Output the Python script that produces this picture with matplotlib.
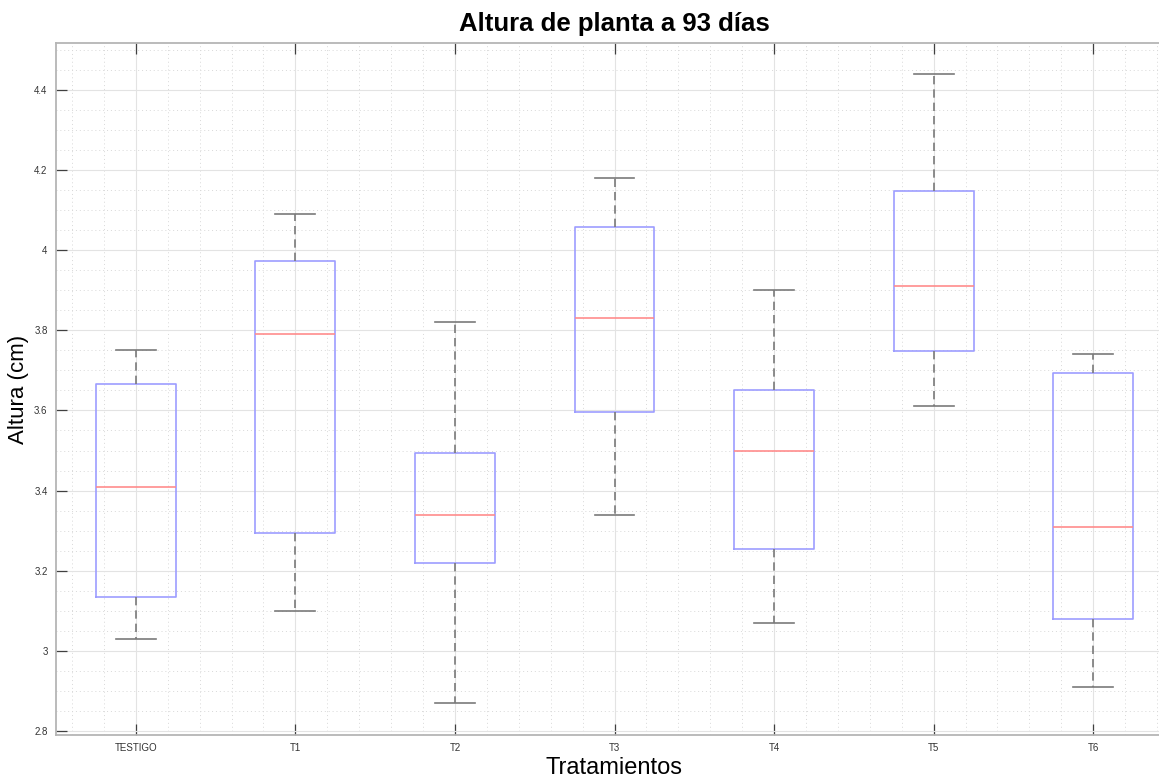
import numpy as np
import matplotlib.pyplot as plt
from matplotlib.ticker import MultipleLocator

plt.rcParams['font.family'] = ['Liberation Sans', 'DejaVu Sans']

grupos = ['TESTIGO', 'T1', 'T2', 'T3', 'T4', 'T5', 'T6']
bigote_inf = [3.03, 3.10, 2.87, 3.34, 3.07, 3.61, 2.91]
q1 = [3.134, 3.295, 3.22, 3.596, 3.255, 3.749, 3.08]
mediana = [3.41, 3.79, 3.34, 3.83, 3.50, 3.91, 3.31]
q3 = [3.667, 3.973, 3.494, 4.059, 3.65, 4.148, 3.694]
bigote_sup = [3.75, 4.09, 3.82, 4.18, 3.90, 4.44, 3.74]

stats = []
for i in range(len(grupos)):
    stats.append(dict(label=grupos[i], whislo=bigote_inf[i], q1=q1[i],
                      med=mediana[i], q3=q3[i], whishi=bigote_sup[i], fliers=[]))

fig = plt.figure(figsize=(11.59, 7.77), dpi=100)
ax = fig.add_axes([56/1159, 1-735/777, (1173-56)/1159, (735-43)/777])

ax.bxp(stats, positions=np.arange(1, 8), widths=0.5, showfliers=False,
       boxprops=dict(color='#9d9dff', linewidth=1.2),
       medianprops=dict(color='#ff8c8c', linewidth=1.2),
       whiskerprops=dict(color='#7a7a7a', linewidth=1.2, linestyle=(0, (5, 3))),
       capprops=dict(color='#7a7a7a', linewidth=1.2),
       capwidths=0.25)

ax.set_xlim(0.5, 7.5)
ax.set_ylim(2.79, 4.517)
ax.set_yticks([2.8, 3.0, 3.2, 3.4, 3.6, 3.8, 4.0, 4.2, 4.4])
ax.set_yticklabels(['2.8', '3', '3.2', '3.4', '3.6', '3.8', '4', '4.2', '4.4'])
ax.xaxis.set_minor_locator(MultipleLocator(0.2))
ax.yaxis.set_minor_locator(MultipleLocator(0.05))

ax.grid(True, which='major', color='#e3e3e3', linewidth=0.8)
ax.grid(True, which='minor', color='#d8d8d8', linewidth=0.7, linestyle=(0, (1, 3)))
ax.set_axisbelow(True)

ax.tick_params(which='major', direction='in', length=8, width=0.9, color='#404040',
               labelsize=7, labelcolor='#333333', top=True, right=True, pad=6)
ax.tick_params(which='minor', length=0)
for s in ax.spines.values():
    s.set_color('#b5b5b5')
    s.set_linewidth(1.3)

ax.set_title('Altura de planta a 93 días', fontsize=18.5, fontweight='bold', pad=9)
ax.set_xlabel('Tratamientos', fontsize=17, labelpad=2.5)
ax.set_ylabel('Altura (cm)', fontsize=16, labelpad=4)

fig.savefig('out.png', dpi=100)
